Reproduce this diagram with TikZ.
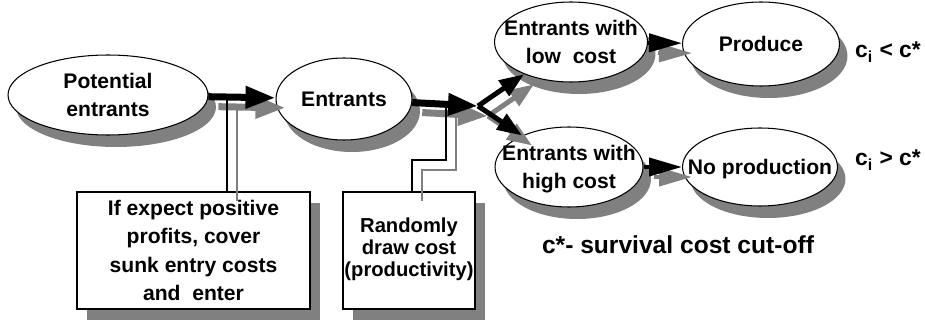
\documentclass[tikz,border=0pt]{standalone}
\usepackage{fontspec}
\setmainfont{Liberation Sans}
\usetikzlibrary{arrows.meta,shapes.geometric,shadows,calc}
\definecolor{ShadeGray}{HTML}{808080}

% text set over an oval without widening it
\newcommand{\ovaltext}[1]{\raisebox{-0.65em}{\smash{\makebox[0pt]{\fontsize{12}{16}\selectfont\begin{tabular}{@{}c@{}}#1\end{tabular}}}}}

\tikzset{
  oval/.style={ellipse, draw, fill=white, line width=0.6pt, inner sep=0pt,
    drop shadow={shadow xshift=0.16cm, shadow yshift=-0.24cm, fill=ShadeGray, opacity=1}},
  notebox/.style={rectangle, draw, fill=white, line width=0.6pt, align=center, inner sep=0pt,
    drop shadow={shadow xshift=0.2cm, shadow yshift=-0.22cm, fill=ShadeGray, opacity=1}},
  fatarrow/.style={line width=0.14cm, -{Triangle[length=0.6cm,width=0.42cm]}},
  forkarrow/.style={line width=0.1cm, -{Triangle[length=0.5cm,width=0.36cm]}},
  stubarrow/.style={line width=0.08cm, -{Triangle[length=0.66cm,width=0.36cm]}},
  shade/.style={ShadeGray, transform canvas={xshift=0.2cm,yshift=-0.2cm}},
  tapline/.style={line width=0.6pt},
}

\begin{document}
\begin{tikzpicture}[x=0.02cm, y=-0.02cm, font=\bfseries\fontsize{12}{15}\selectfont]
  \useasboundingbox (0,0) rectangle (925,324);

  \node[oval, minimum width=4cm, minimum height=1.6cm] (pot) at (108,95) {\ovaltext{Potential\\entrants}};
  \node[oval, minimum width=2.72cm, minimum height=1.64cm] (ent) at (344,99) {\ovaltext{Entrants}};
  \node[oval, minimum width=3.06cm, minimum height=1.6cm] (low) at (571,42) {\ovaltext{Entrants with\\low\ \ cost}};
  \node[oval, minimum width=3.14cm, minimum height=1.68cm] (prod) at (761,44) {\ovaltext{Produce}};
  \node[oval, minimum width=2.96cm, minimum height=1.6cm] (high) at (569,167) {\ovaltext{Entrants with\\high cost}};
  \node[oval, minimum width=3.1cm, minimum height=1.56cm] (noprod) at (760,167) {\ovaltext{No production}};

  \node[notebox, minimum width=4.66cm, minimum height=2.34cm, font=\bfseries\fontsize{12}{16}\selectfont] (entrybox) at (193.5,250.5)
    {If expect positive\\profits, cover\\sunk entry costs\\and\ \ enter};
  \node[notebox, minimum width=2.64cm, minimum height=2.34cm, font=\bfseries\fontsize{11.5}{12.5}\selectfont] (costbox) at (409,250.5)
    {\raisebox{-0.3em}{\begin{tabular}{@{}c@{}}Randomly\\draw cost\\(productivity)\end{tabular}}};

  \node[font=\bfseries\fontsize{13}{15}\selectfont] (lowrule) at (888,52) {c\textsubscript{i} < c*};
  \node[font=\bfseries\fontsize{13}{15}\selectfont] (highrule) at (888,160) {c\textsubscript{i} > c*};
  \node[font=\bfseries\fontsize{14}{16}\selectfont] (cutoff) at (678,245) {c*- survival cost cut-off};

  \coordinate (tap1) at (227,98);
  \coordinate (tap2) at (446,107);
  \coordinate (fork) at (478,106);

  % shadows of the arrows
  \draw[fatarrow, shade] (pot) -- (ent);
  \draw[fatarrow, shade] (ent) -- (fork);
  \draw[forkarrow, shade] (fork) -- (low);
  \draw[forkarrow, shade] (fork) -- (high);
  \draw[stubarrow, shade] (low) -- (prod);
  \draw[stubarrow, shade] (high) -- (noprod);

  % leader lines to the notes
  \draw[tapline, shade] (tap1) -- (tap1 |- entrybox.north);
  \draw[tapline, shade] (tap2) -- ++(0,53) -| ([xshift=0.06cm]costbox.north);
  \draw[tapline] (tap1) -- (tap1 |- entrybox.north);
  \draw[tapline] (tap2) -- ++(0,53) -| ([xshift=0.06cm]costbox.north);

  \draw[fatarrow] (pot) -- (ent);
  \draw[fatarrow] (ent) -- (fork);
  \draw[forkarrow] (fork) -- (low);
  \draw[forkarrow] (fork) -- (high);
  \draw[stubarrow] (low) -- (prod);
  \draw[stubarrow] (high) -- (noprod);
\end{tikzpicture}
\end{document}
